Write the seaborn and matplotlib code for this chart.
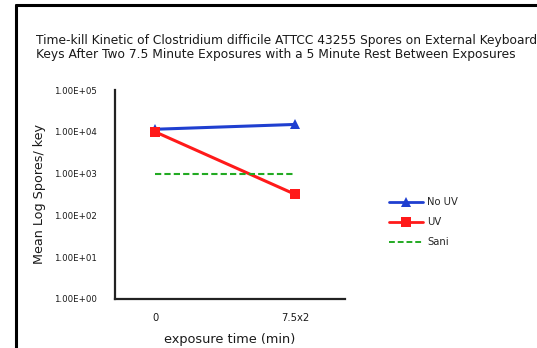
import matplotlib
matplotlib.use("Agg")
import matplotlib.pyplot as plt
from matplotlib.lines import Line2D
import seaborn as sns
import pandas as pd
import numpy as np

categories = ["0", "7.5x2"]
no_uv = [1.15e4, 1.5e4]
uv = [1.0e4, 3.2e2]
sani = [1.0e3, 1.0e3]
ytick_vals = [1e0, 1e1, 1e2, 1e3, 1e4, 1e5]
ytick_labels = ["1.00E+00", "1.00E+01", "1.00E+02", "1.00E+03", "1.00E+04", "1.00E+05"]

sns.set_theme(style="white")
plt.rcParams['font.family'] = ['DejaVu Sans']

xpos = list(range(len(categories)))
df = pd.DataFrame({
    "x": xpos * 3,
    "y": no_uv + uv + sani,
    "series": ["No UV"] * 2 + ["UV"] * 2 + ["Sani"] * 2,
})

fig = plt.figure(figsize=(5.37, 3.48), dpi=100)
ax = fig.add_axes([115/537, 1-299/348, (345-115)/537, (299-90)/348])

palette = {"No UV": "#1f3fd0", "UV": "#ff1a1a", "Sani": "#22aa22"}
markers = {"No UV": "^", "UV": "s", "Sani": ""}
txt = "#1a1a1a"

for name in ["No UV", "UV", "Sani"]:
    sub = df[df.series == name]
    sns.lineplot(data=sub, x="x", y="y", ax=ax, color=palette[name],
                 marker=markers[name] if markers[name] else None,
                 markersize=7.5, markeredgewidth=0, linewidth=2.2 if name != "Sani" else 1.5,
                 dashes=False, label=name, legend=False)
    if name == "Sani":
        ax.lines[-1].set_linestyle((0, (3, 1.5)))

ax.set_yscale("log")
ax.set_ylim(1, 1e5)
ax.set_xlim(-0.286, 1.357)
ax.set_yticks(ytick_vals)
ax.set_yticklabels(ytick_labels, fontsize=6.2, color=txt)
ax.yaxis.set_minor_locator(matplotlib.ticker.NullLocator())
ax.set_xticks(xpos)
ax.set_xticklabels(categories, fontsize=7.2, color=txt)
ax.set_xticks([0.42, 1.357], minor=True)
ax.tick_params(axis="x", which="major", length=0, pad=10)
ax.tick_params(axis="x", which="minor", length=4, width=1.5, direction="in", color="#222222")
ax.tick_params(axis="y", which="major", length=3, width=1, direction="out", color="#222222", pad=10)

for s in ["top", "right"]:
    ax.spines[s].set_visible(False)
for s in ["left", "bottom"]:
    ax.spines[s].set_color("#222222")
    ax.spines[s].set_linewidth(1.6)

ax.set_xlabel("exposure time (min)", fontsize=9.3, color=txt, labelpad=7)
ax.set_ylabel("Mean Log Spores/ key", fontsize=9.2, color=txt, labelpad=6)

handles = [
    Line2D([], [], color=palette["No UV"], marker="^", markersize=6.5, markeredgewidth=0, lw=2),
    Line2D([], [], color=palette["UV"], marker="s", markersize=6.5, markeredgewidth=0, lw=2),
    Line2D([], [], color=palette["Sani"], ls=(0, (3, 1.5)), lw=1.4),
]
fig.legend(handles, ["No UV", "UV", "Sani"], loc="upper left",
           bbox_to_anchor=(380/537, 1-188/348), frameon=False, fontsize=7.2,
           handlelength=3.4, handletextpad=0.4, labelspacing=1.0)

fig.text(36/537, 1-47.5/348,
         "Time-kill Kinetic of Clostridium difficile ATTCC 43255 Spores on External Keyboard\n"
         "Keys After Two 7.5 Minute Exposures with a 5 Minute Rest Between Exposures",
         fontsize=8.8, color=txt, va="center", ha="left", linespacing=1.14)

fig.add_artist(Line2D([16/537, 1], [1-5/348, 1-5/348], color="black", lw=2.2, transform=fig.transFigure))
fig.add_artist(Line2D([16/537, 16/537], [0, 1-5/348], color="black", lw=2.2, transform=fig.transFigure))

fig.savefig("out.png", dpi=100)
